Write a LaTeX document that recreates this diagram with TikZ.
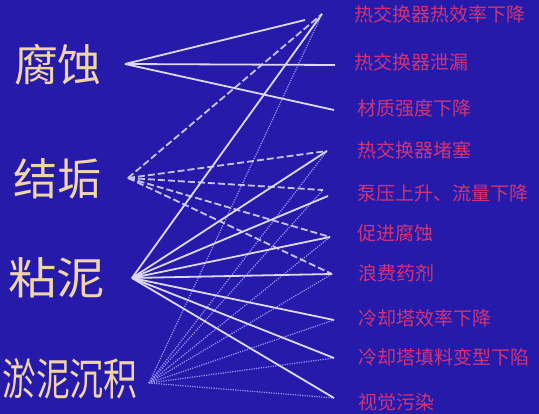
\documentclass[tikz,border=0pt]{standalone}
\usepackage{fontspec}
\newfontfamily\cjk{Noto Sans CJK SC}
\definecolor{bgblue}{RGB}{38,26,170}
\definecolor{leftcol}{RGB}{240,212,170}
\definecolor{rightcol}{RGB}{208,52,118}
\definecolor{solidcol}{RGB}{222,216,246}
\definecolor{dashcol}{RGB}{200,196,248}
\definecolor{dotcol}{RGB}{150,150,255}
\tikzset{
  cause/.style={text=leftcol,font=\cjk\fontsize{44}{44}\selectfont,inner sep=0pt},
  effect/.style={text=rightcol,font=\cjk\fontsize{19}{19}\selectfont,inner sep=0pt,anchor=west},
  solidline/.style={draw=solidcol,line width=1.8pt},
  dashline/.style={draw=dashcol,line width=1.8pt,dash pattern=on 7pt off 3pt},
  dotline/.style={draw=dotcol,line width=1.2pt,dash pattern=on 1.2pt off 1.2pt}
}
\begin{document}
\begin{tikzpicture}[x=1pt,y=-1pt]
\fill[bgblue] (0,0) rectangle (539,414);
\useasboundingbox (0,0) rectangle (539,414);
% causes
\node[cause] (c1) at (58,65) {腐蚀};
\node[cause] (c2) at (57,179) {结垢};
\node[cause,xscale=1.1] (c3) at (57,278) {粘泥};
\node[cause,xscale=0.77] (c4) at (70,379) {淤泥沉积};
% effects
\node[effect] (e1) at (354,14) {热交换器热效率下降};
\node[effect] (e2) at (354,62) {热交换器泄漏};
\node[effect] (e3) at (357,108) {材质强度下降};
\node[effect] (e4) at (357,150) {热交换器堵塞};
\node[effect] (e5) at (357,193) {泵压上升、流量下降};
\node[effect] (e6) at (357,233) {促进腐蚀};
\node[effect] (e7) at (358,273) {浪费药剂};
\node[effect] (e8) at (358,318) {冷却塔效率下降};
\node[effect] (e9) at (358,357) {冷却塔填料变型下陷};
\node[effect] (e10) at (358,402) {视觉污染};
% apex points
\coordinate (s1) at (125,64);
\coordinate (s2) at (128,178);
\coordinate (s3) at (132,278);
\coordinate (s4) at (149,383);
\coordinate (t1a) at (305,20);
\coordinate (t1) at (322,14);
\coordinate (t2) at (335,65);
\coordinate (t3) at (334,110);
\coordinate (t4) at (327,151);
\coordinate (t5) at (323,190);
\coordinate (t5b) at (328,196);
\coordinate (t6) at (330,237);
\coordinate (t7) at (332,274);
\coordinate (t8) at (334,320);
\coordinate (t9) at (334,358);
\coordinate (t10) at (334,398);
% dotted from 淤泥沉积
\foreach \t in {t1,t4,t5,t6,t7,t8,t9,t10} \draw[dotline] (s4) -- (\t);
% dashed from 结垢
\foreach \t in {t1,t4,t5,t6,t7} \draw[dashline] (s2) -- (\t);
% solid from 腐蚀
\foreach \t in {t1a,t2,t3} \draw[solidline] (s1) -- (\t);
% solid from 粘泥
\foreach \t in {t1,t4,t5b,t6,t7,t8,t9,t10} \draw[solidline] (s3) -- (\t);
\end{tikzpicture}
\end{document}
